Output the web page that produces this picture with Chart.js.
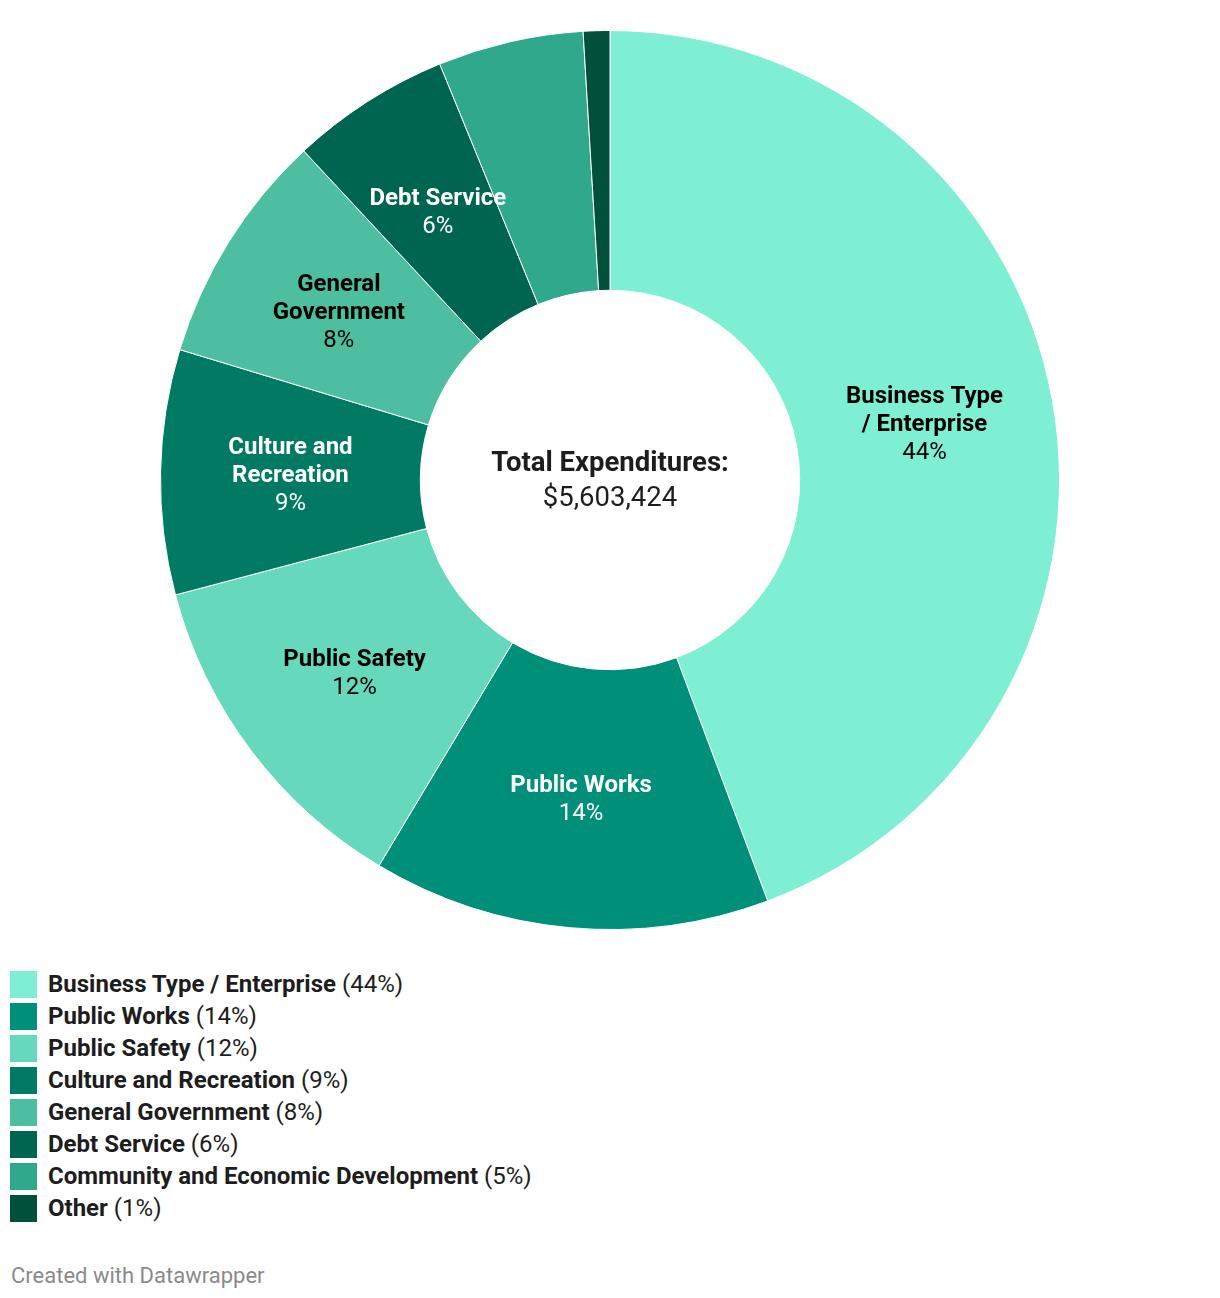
<!DOCTYPE html>
<html>
<head>
<meta charset="utf-8">
<script src="https://cdn.jsdelivr.net/npm/chart.js@4.4.1/dist/chart.umd.min.js"></script>
<style>
    body { margin: 0; background: #fff; font-family: Roboto, sans-serif; color: #1d1d1d; }
    #wrap { position: relative; width: 1220px; height: 960px; }
    #legend { margin: 8px 0 0 10px; }
    .item { display: flex; align-items: center; height: 32px; font-size: 24px; }
    .swatch { width: 27px; height: 27px; margin-right: 11px; }
    .item b { font-weight: 700; margin-right: 6px; }
    #footer { margin: 39px 0 0 11px; font-size: 22px; color: #8a8a8a; }
</style>
</head>
<body>
<div id="wrap"><canvas id="donut"></canvas></div>
<div id="legend"></div>
<div id="footer">Created with Datawrapper</div>

<script>
// data
const categories = [
    'Business Type / Enterprise',
    'Public Works',
    'Public Safety',
    'Culture and Recreation',
    'General Government',
    'Debt Service',
    'Community and Economic Development',
    'Other'
];
const amounts = [2482000, 801000, 689000, 493000, 470000, 322000, 293000, 53424];
const totalLabel = '$5,603,424';

// style
const sliceColors = ['#7eefd2', '#00907a', '#66d8bb', '#007a62', '#4dbfa0', '#006550', '#2fa88c', '#00503c'];
const darkSlices = [false, true, false, true, false, true, true, true];

const sum = amounts.reduce((a, b) => a + b, 0);
const pct = amounts.map(v => Math.round(v * 100 / sum) + '%');

/**
 * Wrap words into lines no wider than maxWidth
 */
function wrapText(ctx, text, maxWidth) {
    const words = text.split(' ');
    const lines = [];
    let line = '';
    words.forEach(w => {
        const test = line ? line + ' ' + w : w;
        if (line && ctx.measureText(test).width > maxWidth) {
            lines.push(line);
            line = w;
        } else {
            line = test;
        }
    });
    if (line) lines.push(line);
    return lines;
}

// slice labels + centre text
const labelPlugin = {
    id: 'sliceLabels',
    afterDatasetsDraw(chart) {
        const ctx = chart.ctx;
        const meta = chart.getDatasetMeta(0);
        ctx.save();
        ctx.textAlign = 'center';
        ctx.textBaseline = 'middle';
        meta.data.forEach((arc, i) => {
            if (amounts[i] / sum < 0.055) return;
            const mid = (arc.startAngle + arc.endAngle) / 2;
            const r = (arc.innerRadius + arc.outerRadius) / 2;
            const x = arc.x + Math.cos(mid) * r;
            const y = arc.y + Math.sin(mid) * r + 2;
            ctx.font = 'bold 24px Roboto';
            const lines = wrapText(ctx, categories[i], 160);
            const all = lines.length + 1;
            const lh = 28;
            let y0 = y - (all - 1) * lh / 2;
            ctx.fillStyle = darkSlices[i] ? '#ffffff' : '#000000';
            lines.forEach((l, k) => ctx.fillText(l, x, y0 + k * lh));
            ctx.font = '24px Roboto';
            ctx.fillText(pct[i], x, y0 + lines.length * lh);
        });

        const c = meta.data[0];
        ctx.fillStyle = '#1d1d1d';
        ctx.font = 'bold 27.5px Roboto';
        ctx.fillText('Total Expenditures:', c.x, c.y - 16);
        ctx.font = '27.5px Roboto';
        ctx.fillText(totalLabel, c.x, c.y + 19);
        ctx.restore();
    }
};

new Chart(document.getElementById('donut'), {
    type: 'doughnut',
    data: {
        labels: categories,
        datasets: [{
            data: amounts,
            backgroundColor: sliceColors,
            borderColor: '#ffffff',
            borderWidth: 1
        }]
    },
    options: {
        responsive: true,
        maintainAspectRatio: false,
        animation: false,
        cutout: '42.2%',
        layout: { padding: { top: 30, bottom: 30 } },
        plugins: {
            legend: { display: false },
            tooltip: { enabled: false }
        }
    },
    plugins: [labelPlugin]
});

// html legend
const legend = document.getElementById('legend');
categories.forEach((name, i) => {
    const row = document.createElement('div');
    row.className = 'item';
    row.innerHTML = '<span class="swatch" style="background:' + sliceColors[i] + '"></span>' +
        '<b>' + name + '</b>(' + pct[i] + ')';
    legend.appendChild(row);
});
</script>
</body>
</html>
